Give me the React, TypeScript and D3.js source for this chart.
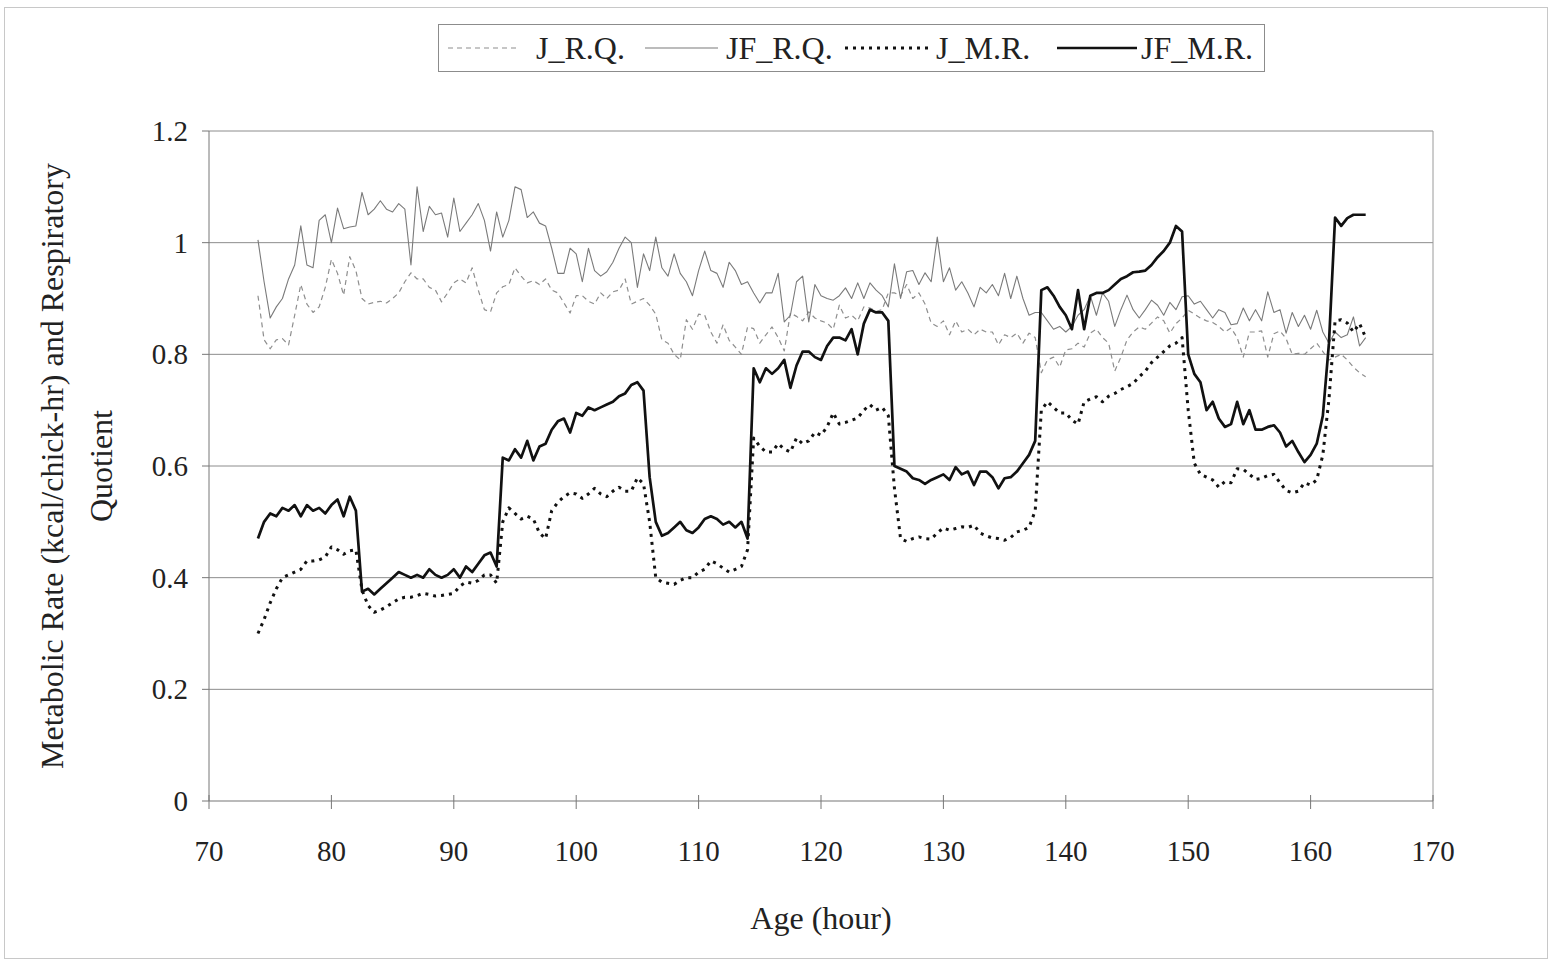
import React from "react";
import * as d3 from "d3";

// Sampling of the respirometry record (hours of age)
const START_HOUR = 74;
const STEP_HOURS = 0.5;

// JF_M.R. — metabolic rate, fed group (kcal/chick-hr)
const jfMR = [
  0.47, 0.5, 0.515, 0.51, 0.525, 0.52, 0.53, 0.51, 0.53, 0.52,
  0.525, 0.515, 0.53, 0.54, 0.51, 0.545, 0.52, 0.375, 0.38, 0.37,
  0.38, 0.39, 0.4, 0.41, 0.405, 0.4, 0.405, 0.4, 0.415, 0.405,
  0.4, 0.405, 0.415, 0.4, 0.42, 0.41, 0.425, 0.44, 0.445, 0.42,
  0.615, 0.61, 0.63, 0.615, 0.645, 0.61, 0.635, 0.64, 0.665, 0.68,
  0.685, 0.66, 0.695, 0.69, 0.705, 0.7, 0.705, 0.71, 0.715, 0.725,
  0.73, 0.745, 0.75, 0.735, 0.58, 0.5, 0.475, 0.48, 0.49, 0.5,
  0.485, 0.48, 0.49, 0.505, 0.51, 0.505, 0.495, 0.5, 0.49, 0.5,
  0.47, 0.775, 0.75, 0.775, 0.765, 0.775, 0.79, 0.74, 0.78, 0.805,
  0.805, 0.795, 0.79, 0.815, 0.83, 0.83, 0.825, 0.845, 0.8, 0.855,
  0.88, 0.875, 0.875, 0.86, 0.6, 0.595, 0.59, 0.578, 0.575, 0.568,
  0.575, 0.58, 0.585, 0.575, 0.598, 0.585, 0.59, 0.566, 0.59, 0.59,
  0.58, 0.56, 0.578, 0.58, 0.59, 0.605, 0.62, 0.645, 0.915, 0.92,
  0.905, 0.885, 0.87, 0.845, 0.915, 0.845, 0.905, 0.91, 0.91, 0.915,
  0.925, 0.935, 0.94, 0.947, 0.948, 0.95, 0.96, 0.974, 0.985, 1.0,
  1.03, 1.02, 0.8, 0.765, 0.75, 0.7, 0.715, 0.685, 0.67, 0.675,
  0.715, 0.675, 0.7, 0.665, 0.665, 0.67, 0.673, 0.66, 0.635, 0.645,
  0.625, 0.607, 0.62, 0.64, 0.69, 0.82, 1.045, 1.03, 1.044, 1.05,
  1.05, 1.05,
];

// J_M.R. — metabolic rate, unfed group
const jMR = [
  0.3, 0.325, 0.355, 0.38, 0.4, 0.405, 0.41, 0.415, 0.43, 0.43,
  0.432, 0.437, 0.455, 0.45, 0.442, 0.448, 0.45, 0.378, 0.35, 0.338,
  0.342, 0.348, 0.355, 0.362, 0.365, 0.365, 0.368, 0.372, 0.37, 0.367,
  0.368, 0.37, 0.372, 0.385, 0.392, 0.39, 0.395, 0.405, 0.405, 0.39,
  0.5, 0.525, 0.515, 0.505, 0.51, 0.505, 0.48, 0.47, 0.52, 0.535,
  0.545, 0.552, 0.55, 0.542, 0.55, 0.56, 0.55, 0.545, 0.555, 0.562,
  0.555, 0.555, 0.579, 0.568, 0.5, 0.4, 0.392, 0.39, 0.388, 0.395,
  0.4, 0.4, 0.41, 0.415, 0.43, 0.425, 0.417, 0.41, 0.415, 0.42,
  0.45, 0.65, 0.635, 0.625, 0.625, 0.64, 0.63, 0.625, 0.65, 0.64,
  0.645, 0.66, 0.655, 0.67, 0.695, 0.675, 0.678, 0.682, 0.686, 0.7,
  0.71, 0.7, 0.705, 0.69, 0.56, 0.47, 0.465, 0.47, 0.473, 0.47,
  0.469, 0.48, 0.489, 0.485, 0.488, 0.491, 0.49, 0.494, 0.48, 0.475,
  0.471, 0.47, 0.467, 0.472, 0.482, 0.485, 0.49, 0.52, 0.7, 0.715,
  0.705, 0.695, 0.695, 0.682, 0.675, 0.715, 0.72, 0.724, 0.715, 0.725,
  0.73, 0.737, 0.742, 0.748, 0.76, 0.77, 0.785, 0.795, 0.805, 0.815,
  0.82, 0.83, 0.7, 0.605, 0.585, 0.58, 0.575, 0.562, 0.572, 0.57,
  0.595, 0.594, 0.585, 0.576, 0.578, 0.583, 0.585, 0.57, 0.556, 0.552,
  0.555, 0.57, 0.566, 0.575, 0.62, 0.72, 0.86, 0.862, 0.856, 0.84,
  0.855, 0.83,
];

// J_R.Q. — respiratory quotient, unfed group
const jRQ = [
  0.905, 0.826, 0.81, 0.826, 0.828, 0.817, 0.87, 0.925, 0.89, 0.875,
  0.885, 0.92, 0.97, 0.945, 0.906, 0.975, 0.95, 0.9, 0.89, 0.893,
  0.895, 0.892, 0.9, 0.91, 0.93, 0.946, 0.935, 0.935, 0.92, 0.915,
  0.894, 0.91, 0.928, 0.935, 0.928, 0.955, 0.915, 0.88, 0.876, 0.91,
  0.921, 0.925, 0.955, 0.94, 0.928, 0.932, 0.925, 0.935, 0.915, 0.91,
  0.892, 0.874, 0.905, 0.905, 0.895, 0.89, 0.91, 0.9, 0.912, 0.915,
  0.935, 0.89, 0.895, 0.9, 0.888, 0.872, 0.826, 0.82, 0.8, 0.79,
  0.862, 0.845, 0.872, 0.87, 0.84, 0.82, 0.853, 0.825, 0.813, 0.8,
  0.849, 0.846, 0.82, 0.835, 0.849, 0.83, 0.806, 0.874, 0.868, 0.86,
  0.876, 0.865, 0.86, 0.856, 0.845, 0.888, 0.865, 0.87, 0.86, 0.885,
  0.883, 0.877, 0.88, 0.91, 0.91, 0.905, 0.925, 0.9, 0.91, 0.89,
  0.856, 0.85, 0.86, 0.835, 0.86, 0.84, 0.845, 0.835, 0.845, 0.84,
  0.84, 0.817, 0.835, 0.83, 0.838, 0.82, 0.838, 0.83, 0.767, 0.79,
  0.795, 0.777, 0.808, 0.81, 0.82, 0.813, 0.838, 0.845, 0.83, 0.82,
  0.77, 0.795, 0.826, 0.84, 0.849, 0.845, 0.856, 0.867, 0.86, 0.838,
  0.855, 0.865, 0.879, 0.872, 0.865, 0.86, 0.857, 0.85, 0.84, 0.847,
  0.83, 0.795, 0.84, 0.84, 0.842, 0.795, 0.837, 0.842, 0.828, 0.8,
  0.802, 0.8, 0.81, 0.82, 0.805, 0.79, 0.795, 0.8, 0.79, 0.777,
  0.767, 0.76,
];

// JF_R.Q. — respiratory quotient, fed group
const jfRQ = [
  1.005, 0.93, 0.865, 0.885, 0.9, 0.935, 0.96, 1.03, 0.96, 0.955,
  1.04, 1.05, 1.0, 1.062, 1.025, 1.028, 1.03, 1.09, 1.05, 1.06,
  1.075, 1.06, 1.055, 1.07, 1.06, 0.96, 1.1, 1.02, 1.065, 1.05,
  1.053, 1.01, 1.08, 1.02, 1.035, 1.05, 1.07, 1.04, 0.985, 1.055,
  1.01, 1.04, 1.1, 1.095, 1.045, 1.055, 1.035, 1.03, 0.99, 0.945,
  0.945, 0.99, 0.98, 0.93, 0.99, 0.95, 0.94, 0.948, 0.965, 0.99,
  1.01, 1.0, 0.92, 0.98, 0.95, 1.01, 0.955, 0.94, 0.98, 0.945,
  0.93, 0.905, 0.95, 0.985, 0.95, 0.945, 0.92, 0.965, 0.95, 0.925,
  0.93, 0.91, 0.892, 0.91, 0.91, 0.945, 0.858, 0.87, 0.93, 0.94,
  0.858, 0.925, 0.905, 0.9, 0.897, 0.905, 0.919, 0.9, 0.928, 0.9,
  0.928, 0.915, 0.905, 0.885, 0.962, 0.9, 0.948, 0.95, 0.925, 0.946,
  0.93, 1.01, 0.93, 0.955, 0.915, 0.93, 0.91, 0.885, 0.92, 0.91,
  0.925, 0.905, 0.945, 0.9, 0.94, 0.9, 0.87, 0.875, 0.875, 0.86,
  0.845, 0.85, 0.84, 0.85, 0.87, 0.88, 0.905, 0.87, 0.91, 0.895,
  0.85, 0.88, 0.906, 0.88, 0.865, 0.88, 0.897, 0.888, 0.87, 0.893,
  0.88, 0.903, 0.905, 0.89, 0.895, 0.88, 0.865, 0.88, 0.875, 0.853,
  0.855, 0.883, 0.86, 0.88, 0.86, 0.912, 0.875, 0.88, 0.838, 0.875,
  0.85, 0.87, 0.845, 0.879, 0.84, 0.82, 0.84, 0.83, 0.835, 0.867,
  0.815, 0.83,
];

const xTicks = [70, 80, 90, 100, 110, 120, 130, 140, 150, 160, 170];
const yTicks = [0, 0.2, 0.4, 0.6, 0.8, 1, 1.2];
const yTickLabels = ["0", "0.2", "0.4", "0.6", "0.8", "1", "1.2"];

type SeriesStyle = {
  name: string;
  values: number[];
  stroke: string;
  width: number;
  dash?: string;
};

const series: SeriesStyle[] = [
  { name: "J_R.Q.", values: jRQ, stroke: "#8e8e8e", width: 1.2, dash: "5,4" },
  { name: "JF_R.Q.", values: jfRQ, stroke: "#7a7a7a", width: 1.1 },
  { name: "J_M.R.", values: jMR, stroke: "#111", width: 3, dash: "3,5" },
  { name: "JF_M.R.", values: jfMR, stroke: "#111", width: 2.7 },
];

const W = 1552;
const H = 965;
const FONT = "'Liberation Serif', 'Times New Roman', serif";
const TICK_SIZE = 29;
const TITLE_SIZE = 32;

export default function App() {
  const x = d3.scaleLinear().domain([70, 170]).range([209, 1433]);
  const y = d3.scaleLinear().domain([0, 1.2]).range([801, 131]);
  const [x0, x1] = x.range();
  const [yb, yt] = y.range();

  const line = (vals: number[]) =>
    d3
      .line<number>()
      .x((_, i) => x(START_HOUR + i * STEP_HOURS))
      .y((v) => y(v))(vals) ?? "";

  // legend layout: sample line span and label start
  const legendItems = [
    { s: series[0], lx0: 448, lx1: 518, tx: 536 },
    { s: series[1], lx0: 645, lx1: 718, tx: 726 },
    { s: series[2], lx0: 845, lx1: 930, tx: 936 },
    { s: series[3], lx0: 1057, lx1: 1137, tx: 1141 },
  ];

  return (
    <svg
      width={W}
      height={H}
      style={{ position: "absolute", left: 0, top: 0, background: "#fff" }}
      fontFamily={FONT}
    >
      <rect x={0} y={0} width={W} height={H} fill="#fff" />
      <rect x={4.5} y={7.5} width={W - 9} height={H - 14} fill="none" stroke="#c8c8c8" strokeWidth={1} />

      {/* horizontal gridlines */}
      {yTicks.slice(1).map((t) => (
        <line key={t} x1={x0} x2={x1} y1={y(t)} y2={y(t)} stroke="#8c8c8c" strokeWidth={1} />
      ))}
      {/* plot frame */}
      <line x1={x0} x2={x0} y1={yt} y2={yb} stroke="#777" strokeWidth={1} />
      <line x1={x1} x2={x1} y1={yt} y2={yb} stroke="#9a9a9a" strokeWidth={1} />
      <line x1={x0} x2={x1} y1={yb} y2={yb} stroke="#777" strokeWidth={1.2} />

      {/* y ticks and labels */}
      {yTicks.map((t, i) => (
        <g key={t}>
          <line x1={x0 - 7} x2={x0} y1={y(t)} y2={y(t)} stroke="#777" />
          <text
            x={188}
            y={y(t)}
            textAnchor="end"
            dominantBaseline="central"
            fontSize={TICK_SIZE}
            fill="#222"
          >
            {yTickLabels[i]}
          </text>
        </g>
      ))}

      {/* x ticks and labels */}
      {xTicks.map((t) => (
        <g key={t}>
          <line x1={x(t)} x2={x(t)} y1={yb - 6} y2={yb + 8} stroke="#777" />
          <text x={x(t)} y={851} textAnchor="middle" dominantBaseline="central" fontSize={TICK_SIZE} fill="#222">
            {t}
          </text>
        </g>
      ))}

      {/* series */}
      {series.map((s) => (
        <path
          key={s.name}
          d={line(s.values)}
          fill="none"
          stroke={s.stroke}
          strokeWidth={s.width}
          strokeDasharray={s.dash}
          strokeLinejoin="round"
        />
      ))}

      {/* axis titles */}
      <text x={821} y={918} textAnchor="middle" dominantBaseline="central" fontSize={TITLE_SIZE} fill="#222">
        Age (hour)
      </text>
      <g transform="translate(52,466) rotate(-90)">
        <text x={0} y={0} textAnchor="middle" dominantBaseline="central" fontSize={TITLE_SIZE} fill="#222">
          Metabolic Rate (kcal/chick-hr) and Respiratory
        </text>
      </g>
      <g transform="translate(101,466) rotate(-90)">
        <text x={0} y={0} textAnchor="middle" dominantBaseline="central" fontSize={TITLE_SIZE} fill="#222">
          Quotient
        </text>
      </g>

      {/* legend */}
      <rect x={438.5} y={24.5} width={826} height={47} fill="#fff" stroke="#8c8c8c" strokeWidth={1} />
      {legendItems.map(({ s, lx0, lx1, tx }) => (
        <g key={s.name}>
          <line
            x1={lx0}
            x2={lx1}
            y1={48}
            y2={48}
            stroke={s.stroke}
            strokeWidth={s.width}
            strokeDasharray={s.dash}
          />
          <text x={tx} y={48} dominantBaseline="central" fontSize={TITLE_SIZE} fill="#222">
            {s.name}
          </text>
        </g>
      ))}
    </svg>
  );
}
